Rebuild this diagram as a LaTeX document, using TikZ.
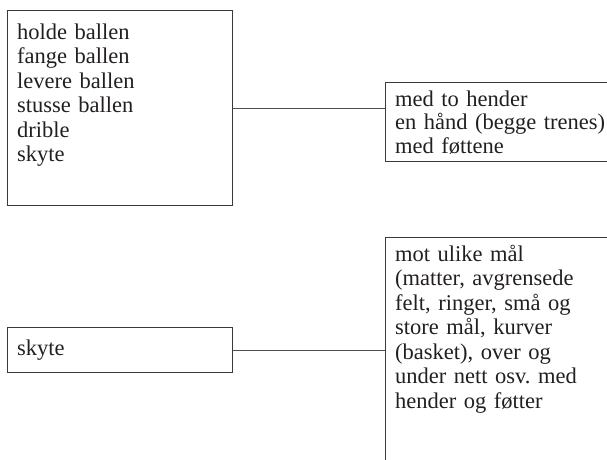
\documentclass[tikz,border=0pt]{standalone}
\usepackage{fontspec}
\setmainfont{Liberation Serif}
\frenchspacing
\definecolor{boxline}{HTML}{3A3A3A}
\definecolor{inktext}{HTML}{231F20}
\tikzset{
  box/.style={draw=boxline, line width=1.3pt, rectangle, inner sep=0pt, anchor=north west},
  boxtext/.style={anchor=base west, inner sep=0pt, text width=215pt, align=left,
    text=inktext, font=\fontsize{22.5}{24.5}\selectfont},
  conn/.style={draw=boxline!90!white, line width=1.3pt}
}
\begin{document}
\begin{tikzpicture}[x=1pt,y=-1pt]
\useasboundingbox (0,0) rectangle (607,459);
\clip (0,0) rectangle (607,459);
\node[box, minimum width=225pt, minimum height=195pt] (A) at (7,10) {};
\node[box, minimum width=240pt, minimum height=79pt] (B) at (385,82) {};
\node[box, minimum width=225pt, minimum height=45pt] (C) at (7,327) {};
\node[box, minimum width=240pt, minimum height=240pt] (D) at (385,237) {};
\node[boxtext] (tA) at (17,39) {holde ballen\\fange ballen\\levere ballen\\stusse ballen\\drible\\skyte};
\node[boxtext, font=\fontsize{22.5}{23.5}\selectfont] (tB) at (395,106) {med to hender\\en hånd (begge trenes)\\med føttene};
\node[boxtext] (tC) at (17,355) {skyte};
\node[boxtext] (tD) at (395,261) {mot ulike mål\\(matter, avgrensede\\felt, ringer, små og\\store mål, kurver\\(basket), over og\\under nett osv.\ med\\hender og føtter};
\draw[conn] (A.east) -- (A.east -| B.west);
\draw[conn] (C.east) -- (C.east -| D.west);
\end{tikzpicture}
\end{document}
